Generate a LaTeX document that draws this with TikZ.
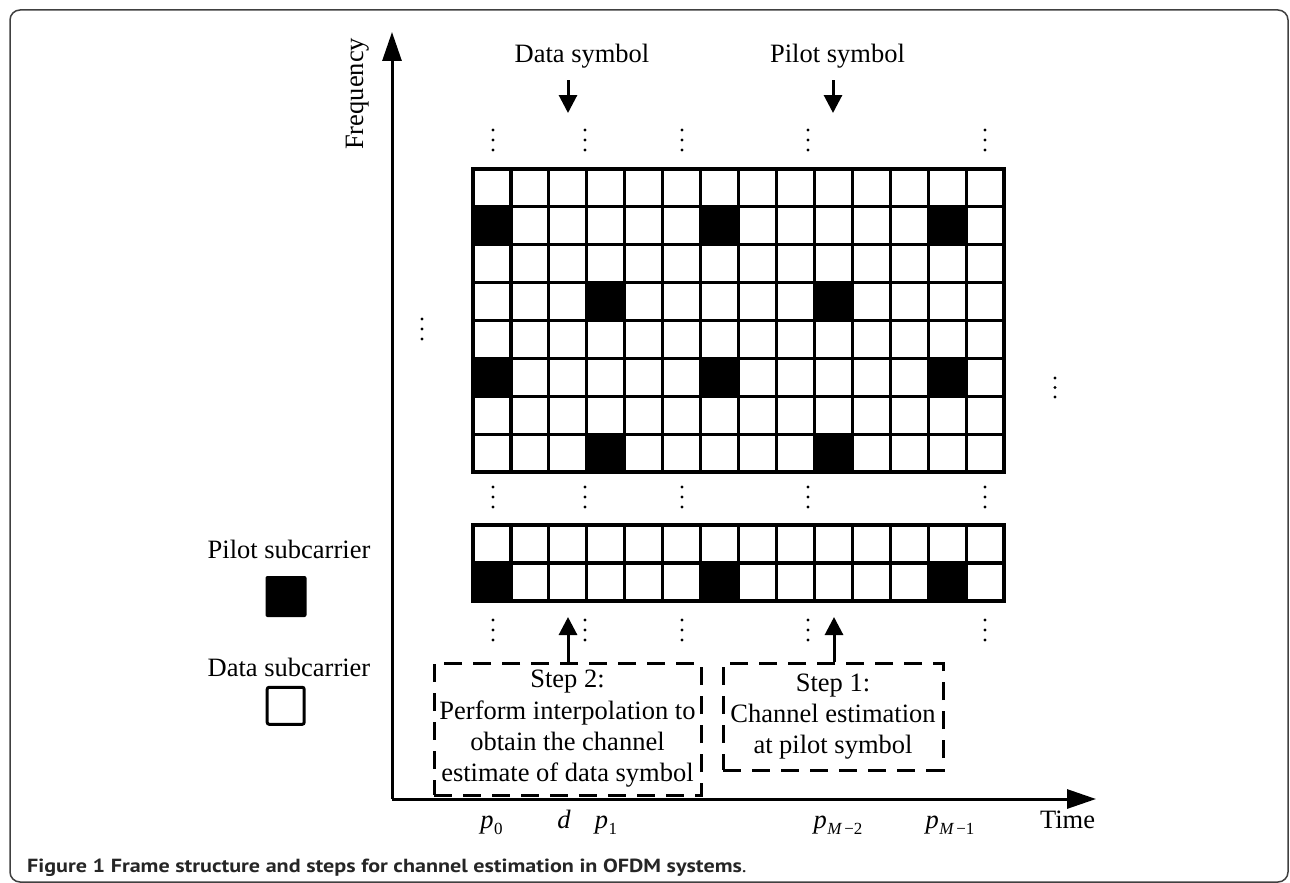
\documentclass[tikz,border=0pt]{standalone}
\usepackage{fontspec}
\setmainfont{Liberation Serif}
\newfontfamily\capfont{PT Sans}
\usetikzlibrary{arrows.meta}
\newcommand\psub[1]{\textit{p}\kern0.5pt\raisebox{-6pt}{\fontsize{17}{17}\selectfont #1}}
\begin{document}
\begin{tikzpicture}[x=1pt,y=-1pt,
  lbl/.style={inner sep=0, font=\fontsize{26.5}{31.3}\selectfont, anchor=base},
  gridline/.style={line width=3.2pt, line cap=rect},
  pilotcell/.style={fill=black},
  axisarrow/.style={line width=3pt, -{Triangle[width=19pt,length=29pt]}},
  symarrow/.style={line width=3pt, -{Triangle[width=18pt,length=18pt]}},
  stepbox/.style={draw, dashed, dash pattern=on 18pt off 11pt, line width=3pt, inner sep=0,
     align=center, font=\fontsize{26.5}{31.3}\selectfont},
  vdot/.style={fill=black},
  frame/.style={draw=black!75, line width=1.5pt, rounded corners=10pt}
]
\useasboundingbox (0,0) rectangle (1290,883);
% outer frame
\draw[frame] (10,10) rectangle (1288,882);

% axes
\coordinate (O) at (392,799);
\coordinate (ytip) at (392,32);
\coordinate (xtip) at (1096,799);
\draw[axisarrow] (O) -- (ytip);
\draw[axisarrow] (O) -- (xtip);
\node[lbl, rotate=90, anchor=base west] (freq) at (363,150) {Frequency};
\node[lbl] (time) at (1067.5,828) {Time};

% top grid (14 x 8)
\def\cw{37.93}
\def\ch{37.875}
\foreach \r/\c in {1/0,1/6,1/12,3/3,3/9,5/0,5/6,5/12,7/3,7/9}
  \fill[pilotcell] (473+\c*\cw,169+\r*\ch) rectangle ++(\cw,\ch);
\foreach \i in {0,...,14}
  \draw[gridline] (473+\i*\cw,169) -- (473+\i*\cw,472);
\foreach \j in {0,...,8}
  \draw[gridline] (473,169+\j*\ch) -- (1004,169+\j*\ch);

% bottom grid (14 x 2)
\foreach \c in {0,6,12}
  \fill[pilotcell] (473+\c*\cw,563) rectangle ++(\cw,38);
\foreach \i in {0,...,14}
  \draw[gridline] (473+\i*\cw,525) -- (473+\i*\cw,601);
\foreach \j in {0,1,2}
  \draw[gridline] (473,525+\j*38) -- (1004,525+\j*38);

% vertical ellipses
\foreach \x in {493,585,682,808,985}
  \foreach \y in {130,487,620}
    \foreach \k in {0,1,2}
      \fill[vdot] (\x,\y+\k*10) circle (1.6);
\foreach \k in {0,1,2} \fill[vdot] (422,319+\k*10) circle (1.6);
\foreach \k in {0,1,2} \fill[vdot] (1055,378+\k*9.5) circle (1.6);

% symbol labels and arrows
\node[lbl] (dsym) at (582,63) {Data symbol};
\node[lbl] (psym) at (837.5,63) {Pilot symbol};
\coordinate (dsA) at (568,80);
\coordinate (dsB) at (568,113);
\coordinate (psA) at (833,80);
\coordinate (psB) at (833,113);
\draw[symarrow] (dsA) -- (dsB);
\draw[symarrow] (psA) -- (psB);

% step boxes
\node[stepbox, minimum width=267, minimum height=132] (s2) at (567.5,729)
  {Step 2:\\Perform interpolation to\\obtain the channel\\estimate of data symbol};
\node[stepbox, minimum width=220, minimum height=107] (s1) at (833,716.5)
  {Step 1:\\Channel estimation\\at pilot symbol};
\coordinate (t2) at (568,617);
\coordinate (t1) at (834,617);
\draw[symarrow] (s2.north -| t2) -- (t2);
\draw[symarrow] (s1.north -| t1) -- (t1);

% time labels
\node[lbl] (p0) at (491.5,828) {\psub{0}};
\node[lbl] (dl) at (564,828) {\textit{d}};
\node[lbl] (p1) at (606,828) {\psub{1}};
\node[lbl] (pm2) at (838,828) {\psub{\textit{M}\kern2pt−2}};
\node[lbl] (pm1) at (950,828) {\psub{\textit{M}\kern2pt−1}};

% legend
\node[lbl] (pilotlbl) at (289,558) {Pilot subcarrier};
\node[fill=black, rounded corners=2pt, minimum size=41, inner sep=0] (pilotsq) at (286,596.5) {};
\node[lbl] (datalbl) at (289,676) {Data subcarrier};
\node[draw, line width=3pt, rounded corners=2pt, minimum size=37, inner sep=0] (datasq) at (285.7,705.8) {};

% caption
\node[inner sep=0, anchor=base west, font=\capfont\bfseries\fontsize{19}{22}\selectfont, text=black!85] (cap) at (27,872)
  {\scalebox{1.163}[1]{Figure 1 Frame structure and steps for channel estimation in OFDM systems{\mdseries .}}};
\end{tikzpicture}
\end{document}
